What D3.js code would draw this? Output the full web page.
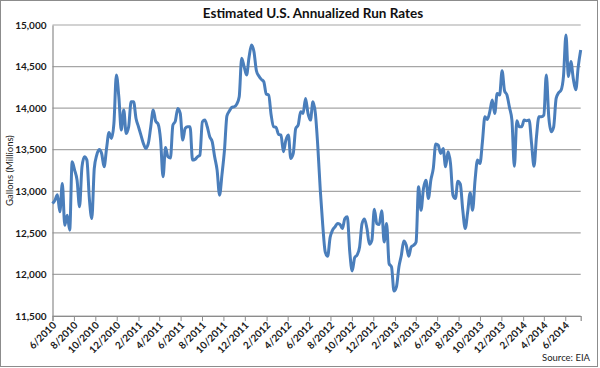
<!DOCTYPE html>
<html><head><meta charset="utf-8">
<script src="https://cdn.jsdelivr.net/npm/d3@7"></script>
<style>body{margin:0;background:#fff}</style>
</head><body>
<svg id="c" width="600" height="368"></svg>
<script>
const chartTitle = "Estimated U.S. Annualized Run Rates";
const yAxisTitle = "Gallons (Millions)";
const sourceText = "Source: EIA";
const startDate = "2010-06-04";
const runRates = [
12853,12893,12957,12753,13094,12592,12713,12532,13355,13254,
13134,12813,13294,13415,13375,12913,12672,13274,13435,13503,
13455,13294,13515,13708,13636,13816,14400,14137,13736,13977,
13696,13776,14077,14077,13876,13776,13676,13575,13515,13575,
13776,13977,13844,13808,13616,13174,13527,13415,13400,13796,
13844,13997,13937,13616,13756,13776,13776,13375,13383,13415,
13435,13836,13856,13776,13656,13596,13415,13254,12953,13206,
13495,13908,13965,14009,14017,14049,14137,14600,14500,14398,
14611,14760,14679,14450,14386,14346,14318,14169,14157,13917,
13776,13768,13684,13676,13475,13616,13676,13395,13455,13756,
13796,13957,13937,14117,13937,13856,14077,13937,13535,13014,
12592,12271,12219,12444,12532,12572,12612,12604,12552,12672,
12693,12271,12042,12203,12235,12331,12612,12668,12552,12363,
12411,12785,12612,12600,12765,12391,12612,12130,12090,11800,
11850,12090,12231,12403,12351,12219,12331,12351,12391,13054,
12773,13034,13134,12913,13134,13275,13570,13555,13455,13515,
13295,13475,13335,12953,12913,13122,13086,12773,12552,12753,
12981,12773,13134,13375,13335,13596,13896,13864,13957,14097,
13937,14177,14157,14450,14209,14157,14009,13856,13300,13848,
13776,13776,13856,13848,13856,13575,13300,13656,13896,13896,
13917,14400,13896,13716,13776,14117,14185,14217,14386,14880,
14380,14560,14350,14220,14500,14700
];
const yTicks = [11500,12000,12500,13000,13500,14000,14500,15000];
const xTickLabels = ["6/2010","8/2010","10/2010","12/2010","2/2011","4/2011","6/2011","8/2011","10/2011","12/2011",
"2/2012","4/2012","6/2012","8/2012","10/2012","12/2012","2/2013","4/2013","6/2013","8/2013",
"10/2013","12/2013","2/2014","4/2014","6/2014"];

const start = d3.timeParse("%Y-%m-%d")(startDate);
const dates = runRates.map((v,i)=>d3.timeWeek.offset(start,i));
const data = runRates.map((v,i)=>({date:dates[i], value:v}));
const tickDates = xTickLabels.map(s=>{const [mo,yr]=s.split("/").map(Number); return new Date(yr,mo-1,start.getDate());});

const svg = d3.select("#c");
const font = "Lato, 'Open Sans', sans-serif";
const L=52.5, R=580.7, T=25, B=316;

svg.append("rect").attr("x",0.5).attr("y",0.5).attr("width",597).attr("height",366)
  .attr("fill","#fff").attr("stroke","#8c8c8c").attr("stroke-width",1);

const x = d3.scaleTime().domain([dates[0], dates[dates.length-1]]).range([L,R]);
const y = d3.scaleLinear().domain([11500,15000]).range([B,T]);

svg.append("g").selectAll("line").data(yTicks).join("line")
  .attr("x1",L).attr("x2",R).attr("y1",d=>y(d)).attr("y2",d=>y(d))
  .attr("stroke","#a6a6a6").attr("stroke-width",1.2);

const yAxis = svg.append("g").attr("transform",`translate(${L},0)`)
  .call(d3.axisLeft(y).tickValues(yTicks).tickSize(0).tickPadding(6).tickFormat(d3.format(",")));
yAxis.select(".domain").attr("stroke","#8c8c8c").attr("stroke-width",1.2);
yAxis.selectAll("text").attr("font-family",font).attr("font-size",10).attr("font-weight","bold").attr("fill","#1a1a1a");

const xAxis = svg.append("g").attr("transform",`translate(0,${B})`)
  .call(d3.axisBottom(x).tickValues(tickDates).tickSize(5).tickFormat((d,i)=>xTickLabels[i]));
xAxis.select(".domain").attr("stroke","#8c8c8c").attr("stroke-width",1.2);
xAxis.selectAll("line").attr("stroke","#8c8c8c");
xAxis.selectAll("text").attr("font-family",font).attr("font-size",10).attr("font-weight","bold").attr("fill","#1a1a1a")
  .attr("text-anchor","end").attr("dy",0).attr("y",0)
  .attr("transform","translate(4,10) rotate(-45)");

svg.append("path").datum(data)
  .attr("d", d3.line().x(d=>x(d.date)).y(d=>y(d.value)).curve(d3.curveMonotoneX))
  .attr("fill","none").attr("stroke","#4a7ebb").attr("stroke-width",3).attr("stroke-linejoin","round");

svg.append("text").attr("x",313).attr("y",18).attr("text-anchor","middle")
  .attr("font-family",font).attr("font-size",13.5).attr("font-weight","bold").attr("fill","#111").text(chartTitle);
svg.append("text").attr("transform",`translate(13,${(T+B)/2}) rotate(-90)`).attr("text-anchor","middle")
  .attr("font-family",font).attr("font-size",9.5).attr("fill","#1a1a1a").text(yAxisTitle);
svg.append("text").attr("x",590).attr("y",361).attr("text-anchor","end")
  .attr("font-family",font).attr("font-size",9.5).attr("fill","#1a1a1a").text(sourceText);
</script>
</body></html>
